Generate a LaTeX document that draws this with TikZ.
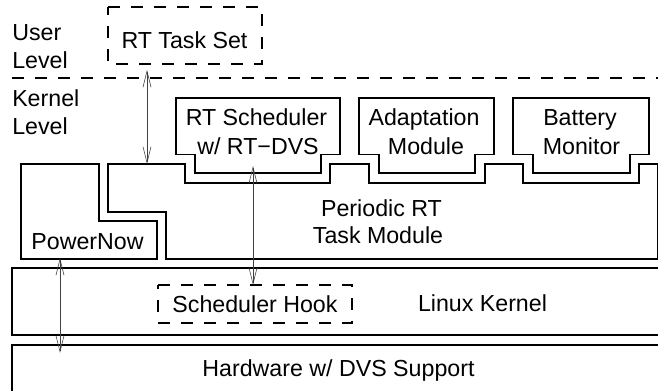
\documentclass[tikz,border=0pt]{standalone}
\usepackage{fontspec}
\setmainfont{Liberation Sans}
\usetikzlibrary{arrows.meta}
\tikzset{
  x=0.75pt,y=-0.75pt,
  outline/.style={draw=black,line width=0.95pt,line join=miter},
  dashbox/.style={draw=black,line width=0.95pt,dash pattern=on 9pt off 8.25pt},
  sep/.style={draw=black,line width=0.8pt,dash pattern=on 9pt off 8.25pt},
  link/.style={draw=black!75,line width=0.45pt,{Straight Barb[length=12pt,width=6pt,line width=0.45pt]}-{Straight Barb[length=12pt,width=6pt,line width=0.45pt]}},
  lab/.style={font=\fontsize{17.4}{20}\selectfont,inner sep=0pt,anchor=base,align=center},
  lableft/.style={lab,anchor=base west,align=left}
}
\begin{document}
\begin{tikzpicture}
\useasboundingbox (0,0) rectangle (658,391);
\begin{scope}
\clip (0,0) rectangle (658,391);
\draw[outline] (176,98) -- (340,98) -- (340,154.5) -- (321,154.5) -- (321,173) -- (195,173) -- (195,154.5) -- (176,154.5) -- cycle;
\draw[outline] (359,98) -- (494,98) -- (494,154.5) -- (475,154.5) -- (475,173) -- (379,173) -- (379,154.5) -- (359,154.5) -- cycle;
\draw[outline] (513,98) -- (649,98) -- (649,154.5) -- (630,154.5) -- (630,173) -- (533,173) -- (533,154.5) -- (513,154.5) -- cycle;
\draw[outline] (108,164) -- (185,164) -- (185,183) -- (330,183) -- (330,164) -- (369,164) -- (369,183) -- (485,183) -- (485,164) -- (523,164) -- (523,183) -- (639,183) -- (639,164) -- (657.5,164) -- (657.5,259) -- (166,259) -- (166,212) -- (108,212) -- cycle;
\draw[outline] (21,164) -- (99,164) -- (99,221) -- (157,221) -- (157,259) -- (21,259) -- cycle;
\draw[outline] (12,268) rectangle (662,335);
\draw[outline] (12,345) rectangle (662,396);
\draw[dashbox] (108,7) -- (262,7) -- (262,64) -- (108,64) -- cycle;
\draw[dashbox] (158,285) -- (352,285) -- (352,323) -- (158,323) -- cycle;
\draw[sep] (12,78) -- (658,78);
\end{scope}
\coordinate (taskb) at (147,70);
\coordinate (modt) at (147,164);
\coordinate (scb) at (253,166);
\coordinate (hookt) at (253,285);
\coordinate (pnb) at (60,258);
\coordinate (hwt) at (60,353);
\draw[link] (taskb) -- (modt);
\draw[link] (scb) -- (hookt);
\draw[link] (pnb) -- (hwt);
\node[lableft] (u1) at (12,41) {User};
\node[lableft] (u2) at (12,68.5) {Level};
\node[lableft] (k1) at (12,106.5) {Kernel};
\node[lableft] (k2) at (12,135) {Level};
\node[lab] (ts) at (184.5,49) {RT Task Set};
\node[lab] (s1) at (256.5,125.5) {RT Scheduler};
\node[lab] (s2) at (258,155) {w/ RT−DVS};
\node[lab] (a1) at (424,125.5) {Adaptation};
\node[lab] (a2) at (426,155) {Module};
\node[lab] (b1) at (580,125.5) {Battery};
\node[lab] (b2) at (581.5,155) {Monitor};
\node[lab] (p1) at (381.5,216.5) {Periodic RT};
\node[lab] (p2) at (378,243.5) {Task Module};
\node[lab] (pn) at (87.5,250) {PowerNow};
\node[lab] (sh) at (255,313) {Scheduler Hook};
\node[lab] (lk) at (482.5,311.5) {Linux Kernel};
\node[lab] (hw) at (338.5,377) {Hardware w/ DVS Support};
\end{tikzpicture}
\end{document}
